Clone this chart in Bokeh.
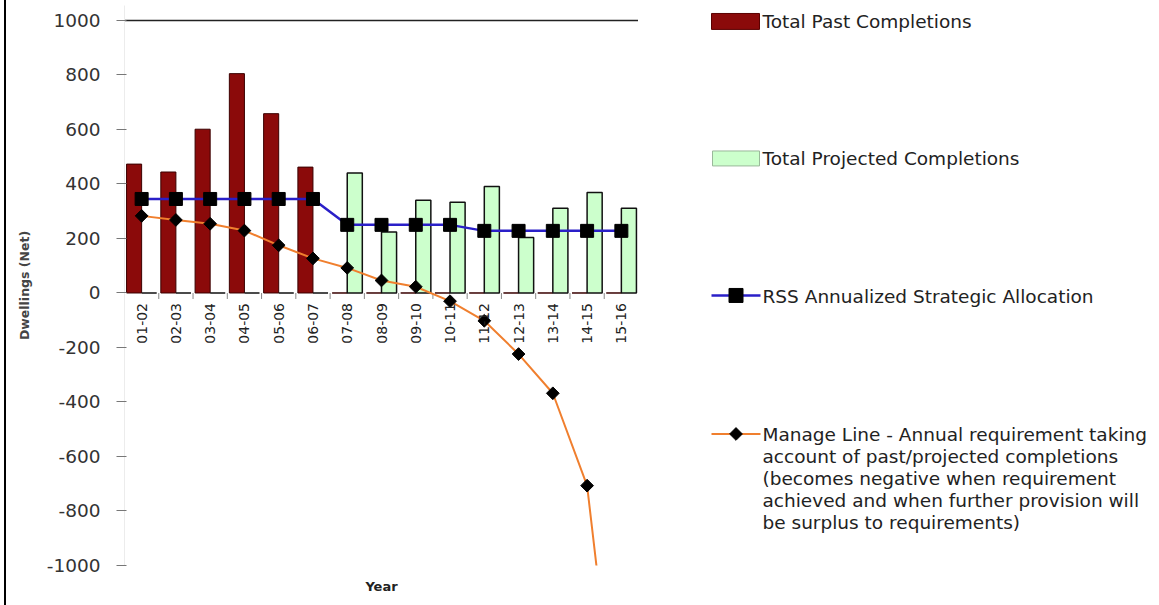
from math import pi

from bokeh.core.properties import value
from bokeh.embed import file_html
from bokeh.layouts import row
from bokeh.models import (ColumnDataSource, FixedTicker, PrintfTickFormatter,
                          Range1d, Title)
from bokeh.plotting import figure
from bokeh.resources import INLINE
from bokeh.transform import dodge

# ---------------- data ----------------
years = ["01-02", "02-03", "03-04", "04-05", "05-06", "06-07", "07-08", "08-09",
         "09-10", "10-11", "11-12", "12-13", "13-14", "14-15", "15-16"]
past_completions = [473, 444, 601, 805, 658, 462, 0, 0, 0, 0, 0, 0, 0, 0, 0]
projected_completions = [0, 0, 0, 0, 0, 0, 440, 224, 340, 333, 391, 204, 311, 369, 311]
rss_allocation = [345, 345, 345, 345, 345, 345, 250, 250, 250, 250, 228, 228, 228, 228, 228]
manage_line = [283, 268, 254, 229, 175, 127, 92, 46, 23, -30, -102, -224, -368, -707, -1784]
y_ticks = [-1000, -800, -600, -400, -200, 0, 200, 400, 600, 800, 1000]

legend_texts = [
    "Total Past Completions",
    "Total Projected Completions",
    "RSS Annualized Strategic Allocation",
    "Manage Line - Annual requirement taking",
    "account of past/projected completions",
    "(becomes negative when requirement",
    "achieved and when further provision will",
    "be surplus to requirements)",
]

FONT = "DejaVu Sans"
PAST_COLOR = "#8B0A0A"
PROJ_COLOR = "#CCFFCC"
RSS_COLOR = "#2A1FC8"
MANAGE_COLOR = "#F07F2E"

src = ColumnDataSource(dict(year=years, past=past_completions,
                            projected=projected_completions,
                            rss=rss_allocation, manage=manage_line))

# ---------------- main chart ----------------
# frame spans page y 5..567; value 1000 sits at page y 20
p = figure(x_range=years, y_range=Range1d(-1000, 1055),
           width=632, height=605, output_backend="svg", toolbar_location=None,
           min_border_left=118, min_border_right=0, min_border_top=5,
           min_border_bottom=38)
p.outline_line_color = None
p.background_fill_color = "white"
p.border_fill_color = "white"

p.vbar(x=dodge("year", -0.22, range=p.x_range), top="past", bottom=0,
       width=0.44, source=src, fill_color=PAST_COLOR, line_color="#3a0000",
       line_width=1)
p.vbar(x=dodge("year", 0.22, range=p.x_range), top="projected", bottom=0,
       width=0.44, source=src, fill_color=PROJ_COLOR, line_color="#111111",
       line_width=1.5)

# category boundary ticks on the zero line
p.segment(x0=dodge("year", 0.5, range=p.x_range), y0=0,
          x1=dodge("year", 0.5, range=p.x_range), y1=-22,
          source=src, line_color="#888888", line_width=1)

p.line(x="year", y="rss", source=src, line_color=RSS_COLOR, line_width=2.5)
p.scatter(x="year", y="rss", source=src, marker="square", size=13,
          fill_color="black", line_color="black")
p.line(x="year", y="manage", source=src, line_color=MANAGE_COLOR, line_width=2)
p.scatter(x="year", y="manage", source=src, marker="square", angle=pi / 4,
          size=9, fill_color="black", line_color="black")

# category labels at the zero line
p.text(x="year", y=0, text="year", source=src, angle=pi / 2, text_align="right",
       text_baseline="middle", y_offset=10, text_font=value(FONT),
       text_font_size="14px", text_color="#222222")

p.xaxis.visible = False
p.add_layout(Title(text="Year", align="center", text_font=FONT, text_font_size="13px",
                   text_font_style="bold", text_color="#222222", standoff=23,
                   offset=0), "below")

p.yaxis.ticker = FixedTicker(ticks=y_ticks)
p.yaxis.formatter = PrintfTickFormatter(format="%d")
p.yaxis.axis_label = "Dwellings (Net)"
p.yaxis.axis_label_text_font = FONT
p.yaxis.axis_label_text_font_style = "bold"
p.yaxis.axis_label_text_font_size = "12.5px"
p.yaxis.axis_label_standoff = 12
p.yaxis.major_label_text_font = FONT
p.yaxis.major_label_text_font_size = "18.5px"
p.yaxis.major_label_text_color = "#333333"
p.yaxis.major_label_standoff = 16
p.yaxis.major_tick_out = 8
p.yaxis.major_tick_in = 2
p.yaxis.major_tick_line_color = "#777777"
p.yaxis.minor_tick_line_color = None
p.yaxis.axis_line_color = "#ececec"

p.xgrid.grid_line_color = None
p.ygrid.ticker = FixedTicker(ticks=[1000])
p.ygrid.grid_line_color = "#222222"
p.ygrid.grid_line_width = 1.5

# ---------------- legend panel (page pixel coordinates) ----------------
lg = figure(width=519, height=605, x_range=Range1d(638, 1157), y_range=Range1d(567, 5),
            output_backend="svg", toolbar_location=None, min_border_left=0,
            min_border_right=0, min_border_top=5, min_border_bottom=38,
            x_axis_location=None, y_axis_location=None)
lg.outline_line_color = None
lg.grid.visible = False
lg.background_fill_color = "white"
lg.border_fill_color = "white"

lg.quad(left=[711], right=[759], top=[13], bottom=[29], fill_color=PAST_COLOR,
        line_color="#5a0000", line_width=1)
lg.quad(left=[712], right=[759], top=[151], bottom=[166], fill_color=PROJ_COLOR,
        line_color="#9ab89a", line_width=1)
lg.line(x=[711, 760], y=[296, 296], line_color=RSS_COLOR, line_width=2.5)
lg.scatter(x=[735.5], y=[296], marker="square", size=14, fill_color="black",
           line_color="black")
lg.line(x=[711, 760], y=[435, 435], line_color=MANAGE_COLOR, line_width=2)
lg.scatter(x=[735.5], y=[435], marker="square", angle=pi / 4, size=9,
           fill_color="black", line_color="black")

lg.text(x=[762, 762, 762, 762, 762, 762, 762, 762],
        y=[21, 159, 297, 436, 458, 480, 502, 524],
        text=legend_texts, text_align="left", text_baseline="middle",
        text_font=value(FONT), text_font_size="18.5px", text_color="#222222")

layout = row(p, lg, styles={"margin-left": "4px", "border-left": "2px solid black"})

open("out.html", "w").write(file_html(layout, INLINE))
